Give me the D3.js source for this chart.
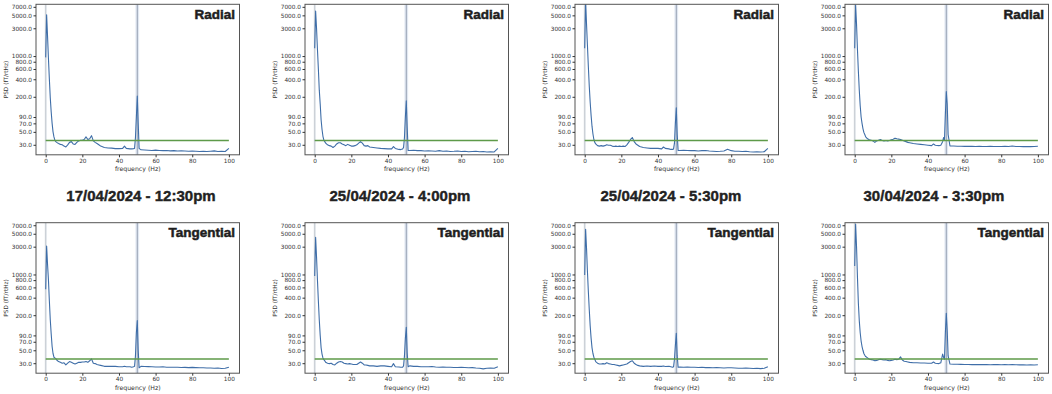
<!DOCTYPE html>
<html>
<head>
<meta charset="utf-8">
<script src="https://cdn.jsdelivr.net/npm/d3@7"></script>
<style>
  html, body { margin: 0; padding: 0; background: #ffffff; }
  svg { display: block; }
</style>
</head>
<body>
<svg id="chart" width="1052" height="394"></svg>
<script>
// ---------------- data ----------------
const freqs = [0,0.5,1,1.5,2,2.5,3,3.5,4,4.5,5,5.5,6,7,8,9,10,11,12,13,14,15,16,17,18,19,20,21,22,23,24,25,26,27,28,29,30,32,34,36,38,40,42,43,44,46,47,48,48.5,49,49.5,50,50.5,51,52,54,56,58,60,62,64,66,68,70,72,74,76,78,80,82,84,86,88,90,92,94,96,98,100];

const radial17 = [950,5100,2200,900,400,190,110,70,50,41,36,34,33,31.5,30.5,30,28.5,27.5,30,33,34,31,30.5,33,35,36,36,37,41,37,38,43,35,33,31.5,30,28.5,27,26.5,26.3,25.8,25.8,26,28.5,26,25.5,25.5,25.8,26,40,90,205,70,26,24.6,24.4,24.2,24.0,24.3,24.0,23.8,24.0,23.6,23.8,23.5,23.6,23.5,23.3,23.5,23.3,23.0,23.2,23.0,23.3,23.6,23.0,23.3,23.0,26];
const radial25a = [1360,5950,3000,1300,600,260,150,80,55,42,36,34,32,30,29,28.5,27,28.5,31,32.5,32.5,31,30,29,30.5,29.5,28.5,28.5,29,30,32,34,32,29,28.5,29,27.5,27,26.5,26,25.8,25.5,25.5,28,26,25,24.8,25.5,27,40,90,170,60,24,24,24.2,23.8,23.8,23.5,23.6,23.5,23.3,23.8,23.2,23.5,23.0,23.2,23.5,23.0,23.2,22.8,23.0,23.2,22.8,23.0,22.6,22.8,22.6,26];
const radial25b = [1360,9000,3500,1500,650,300,160,95,62,46,37,33,31,29,28.5,29,28.5,29,30,29.5,29.5,28.5,28,28.5,28,28.5,28,28.5,28,30,33,37,40,34,31,29.5,28,27,26.5,26,26,26,25.5,27.5,26,25.5,25,25,25.5,32,70,130,45,24,24,24.2,24,23.8,23.8,23.5,23.8,24.0,23.5,23.3,23.0,23.2,23.5,25.2,23.8,23.3,23.2,23.0,23.2,22.8,22.6,22.8,22.6,22.8,26];
const radial30 = [1360,7600,3500,1300,550,260,140,90,70,57,49,45,41,38,36.5,36,35,33,35,36,37,35.5,35,35.5,35,35.5,36.5,37.5,39,38,37.5,37,36,35,34,33,32.5,31.5,31,30.5,30,29.5,29,31,29.5,29,29.5,34,40,36,100,245,150,45,28.8,28.6,28.4,28.3,28.2,28.2,28.3,28.1,28.2,28.0,28.1,28.2,28.0,28.1,28.0,28.2,28.0,28.6,28.1,28.0,27.9,28.0,27.9,28.0,28.4];
const tang17 = [557,3070,1500,800,350,166,95,58,44,38,37,36,34,32,31,30,30.5,28,30,32,31,30,29,30,31,31,31.5,31.5,32,31,33,35.5,30,29.5,28.5,28,27.5,26.5,26.5,26.5,26.5,26,26,26.5,26,26,25.5,26,26.5,40,100,162,50,25,26.5,26.3,26.2,26.0,25.8,25.8,26.0,25.6,25.6,25.5,25.6,25.3,25.4,25.2,25.4,25.2,25.0,25.1,24.8,24.8,24.6,24.8,24.3,24.6,25.5];
const tang25a = [943,4330,2000,800,350,165,90,55,43,37,34.5,33,31,30,29.5,30,28.5,28,30,31.5,32,31.5,30,29.5,29,29.5,29,28.5,28.5,28.5,30,31.5,30,28,28,27.5,27,27,26.5,27,27,26.5,26,29.5,26,25.8,25.5,25.5,27,40,80,124,45,26,27,26.5,26.5,26,26,26,26.3,25.8,25.6,25.8,25.5,25.6,25.3,25.3,25.5,25.3,25.0,25.2,24.8,24.6,24.0,24.5,24.8,24.6,26];
const tang25b = [980,5950,2800,1100,500,246,130,80,55,44,38,35,32,30,29,29,29.5,29,30.5,29.5,29,28.5,28.5,28,27.5,27,27.5,28,28.5,29,30.5,32,33,30,28.5,27.5,27,26.5,26.8,26.5,26.8,26.5,26.5,26.8,26.3,26.5,26,25.5,26,35,60,98,40,25.5,25.8,25.6,25.8,25.5,25.5,25.3,25.6,25.2,25.3,25.0,25.2,25.0,24.8,25.0,25.0,24.8,24.6,24.5,24.8,24.6,24.3,24.5,24.2,24.6,26];
const tang30 = [1400,7350,3000,900,320,160,100,72,58,50,44,41,39,37,35,34.5,34,33,33.5,34.5,35,34.5,34,34.5,33.5,33,33.5,34,35,34.5,35,38.5,34,32.5,32,31.5,31,30.5,30.5,30.3,30.3,30,30,31.5,30,29.5,30.5,43,38,35,100,215,110,40,29,28.8,28.7,28.6,28.5,28.5,28.4,28.5,28.3,28.4,28.3,28.2,28.3,28.4,28.2,28.3,28.2,28.5,28.2,28.1,28.2,28.0,28.1,28.0,28.2];

const seriesList = [radial17, radial25a, radial25b, radial30, tang17, tang25a, tang25b, tang30];
const panelLabels = ["Radial","Radial","Radial","Radial","Tangential","Tangential","Tangential","Tangential"];
const dateTitles = ["17/04/2024 - 12:30pm","25/04/2024 - 4:00pm","25/04/2024 - 5:30pm","30/04/2024 - 3:30pm"];
const yTicks = [30,50,70,90,200,400,600,800,1000,3000,5000,7000];
const xTicks = [0,20,40,60,80,100];
const threshold = 35.5;
const mainsFreq = 50;

// ---------------- layout ----------------
const svg = d3.select("#chart");
svg.append("rect").attr("width",1052).attr("height",394).attr("fill","#fff");

const lefts = [36, 305, 575, 845];
const tops = [4.3, 222.7];
const W = 203.5, H = 150.5;
const tickFont = "DejaVu Sans, sans-serif";

seriesList.forEach((vals, i) => {
  const row = Math.floor(i / 4), col = i % 4;
  const g = svg.append("g").attr("transform", `translate(${lefts[col]},${tops[row]})`);
  const x = d3.scaleLinear().domain([-5.3, 105.8]).range([0, W]);
  const y = d3.scaleLog().domain([20.2, 7740]).range([H, 0]);

  const clipId = "clip" + i;
  g.append("clipPath").attr("id", clipId).append("rect").attr("width", W).attr("height", H);
  const plot = g.append("g").attr("clip-path", `url(#${clipId})`);

  // mains band
  plot.append("rect")
    .attr("x", x(mainsFreq - 1)).attr("y", 0)
    .attr("width", x(mainsFreq + 1) - x(mainsFreq - 1)).attr("height", H)
    .attr("fill", "#bccde3").attr("opacity", 0.45);
  plot.append("rect")
    .attr("x", x(-0.6)).attr("y", 0)
    .attr("width", x(0.6) - x(-0.6)).attr("height", H)
    .attr("fill", "#d6dbe3").attr("opacity", 0.5);
  plot.append("line")
    .attr("x1", x(0)).attr("x2", x(0)).attr("y1", 0).attr("y2", H)
    .attr("stroke", "#c4c9d1").attr("stroke-width", 1);
  plot.append("line")
    .attr("x1", x(mainsFreq)).attr("x2", x(mainsFreq)).attr("y1", 0).attr("y2", H)
    .attr("stroke", "#98a3b4").attr("stroke-width", 1);

  // PSD line
  const line = d3.line().x((d, j) => x(freqs[j])).y(d => y(d));
  plot.append("path").datum(vals)
    .attr("d", line)
    .attr("fill", "none")
    .attr("stroke", "#3f6ea8")
    .attr("stroke-width", 1.1)
    .attr("stroke-linejoin", "round");

  // threshold
  plot.append("line")
    .attr("x1", x(0)).attr("x2", x(100))
    .attr("y1", y(threshold)).attr("y2", y(threshold))
    .attr("stroke", "#5e9a49").attr("stroke-width", 1.6);

  // frame
  g.append("rect").attr("width", W).attr("height", H)
    .attr("fill", "none").attr("stroke", "#555").attr("stroke-width", 1);

  // axes
  const yAxis = g.append("g")
    .call(d3.axisLeft(y).tickValues(yTicks).tickFormat(d3.format(".1f")).tickSize(2.5).tickPadding(1.5));
  yAxis.select(".domain").remove();
  yAxis.selectAll("line").attr("stroke", "#333");
  yAxis.selectAll("text").attr("font-family", tickFont).attr("font-size", 5.8).attr("fill", "#333");

  const xAxis = g.append("g").attr("transform", `translate(0,${H})`)
    .call(d3.axisBottom(x).tickValues(xTicks).tickFormat(d3.format("d")).tickSize(2.5).tickPadding(1.5));
  xAxis.select(".domain").remove();
  xAxis.selectAll("line").attr("stroke", "#333");
  xAxis.selectAll("text").attr("font-family", tickFont).attr("font-size", 5.8).attr("fill", "#333");

  g.append("text")
    .attr("x", W / 2).attr("y", H + 16.5)
    .attr("text-anchor", "middle")
    .attr("font-family", tickFont).attr("font-size", 6.2).attr("fill", "#333")
    .text("frequency (Hz)");

  g.append("text")
    .attr("transform", `translate(-28,${H / 2}) rotate(-90)`)
    .attr("text-anchor", "middle")
    .attr("font-family", tickFont).attr("font-size", 5.8).attr("fill", "#333")
    .text("PSD (fT/rtHz)");

  g.append("text")
    .attr("x", W - 4.5).attr("y", 14.7)
    .attr("text-anchor", "end")
    .attr("font-family", "Liberation Sans, Arial, sans-serif")
    .attr("font-weight", "bold").attr("font-size", 13.5)
    .attr("fill", "#1e1e1e").attr("stroke", "#1e1e1e").attr("stroke-width", 0.5)
    .text(panelLabels[i]);
});

const titleX = [141, 400, 671, 934];
dateTitles.forEach((t, k) => {
  svg.append("text")
    .attr("x", titleX[k]).attr("y", 201)
    .attr("text-anchor", "middle")
    .attr("font-family", "Liberation Sans, Arial, sans-serif")
    .attr("font-weight", "bold").attr("font-size", 15)
    .attr("fill", "#222").attr("stroke", "#222").attr("stroke-width", 0.4)
    .text(t);
});
</script>
</body>
</html>
